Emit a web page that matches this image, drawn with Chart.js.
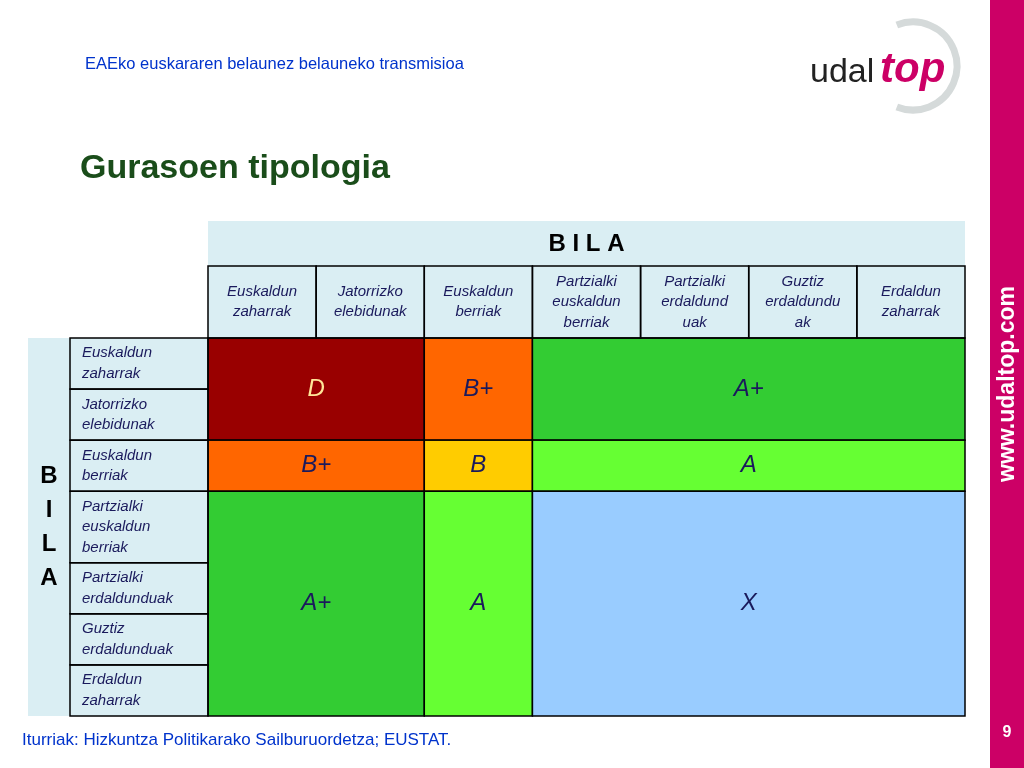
<!DOCTYPE html>
<html><head><meta charset="utf-8">
<script src="https://cdn.jsdelivr.net/npm/chart.js@4/dist/chart.umd.min.js"></script>
<style>body{margin:0;background:#fff}canvas{display:block}</style></head>
<body><canvas id="c" width="1024" height="768"></canvas>
<script>
const colLabels=[["Euskaldun","zaharrak"],["Jatorrizko","elebidunak"],["Euskaldun","berriak"],["Partzialki","euskaldun","berriak"],["Partzialki","erdaldund","uak"],["Guztiz","erdaldundu","ak"],["Erdaldun","zaharrak"]];
const rowLabels=[["Euskaldun","zaharrak"],["Jatorrizko","elebidunak"],["Euskaldun","berriak"],["Partzialki","euskaldun","berriak"],["Partzialki","erdaldunduak"],["Guztiz","erdaldunduak"],["Erdaldun","zaharrak"]];
const rowEdges=[0,1,2,3,4.4,5.4,6.4,7.4];
const blockCols=[[0,2],[2,3],[3,7],[0,2],[2,3],[3,7],[0,2],[2,3],[3,7]];
const blockRows=[[0,2],[0,2],[0,2],[2,3],[2,3],[2,3],[3,7],[3,7],[3,7]];
const blockLabels=["D","B+","A+","B+","B","A","A+","A","X"];
const blockColors=["#990000","#FF6600","#33CC33","#FF6600","#FFCC00","#66FF33","#33CC33","#66FF33","#99CCFF"];
const cyan="#DAEEF3", navy="#1A1A5C", F="'Liberation Sans', Arial, sans-serif";
const plug={id:'tbl',afterDraw(ch){
 const c=ch.ctx,X=ch.scales.x,Y=ch.scales.y;
 const px=v=>X.getPixelForValue(v), py=i=>Y.getPixelForValue(rowEdges[i]);
 c.save();
 const L=px(0),R=px(7),T=py(0),B=py(7);
 c.fillStyle=cyan;
 c.fillRect(L,221,R-L,T-221);
 c.fillRect(28,T,L-28,B-T);
 blockLabels.forEach((lab,i)=>{
  const x0=px(blockCols[i][0]),x1=px(blockCols[i][1]),y0=py(blockRows[i][0]),y1=py(blockRows[i][1]);
  c.fillStyle=blockColors[i];c.fillRect(x0,y0,x1-x0,y1-y0);
  c.strokeStyle="#000";c.lineWidth=1.5;c.strokeRect(x0,y0,x1-x0,y1-y0);
  c.fillStyle=lab==="D"?"#FFE699":navy;c.font="italic 24px "+F;
  c.textAlign="center";c.textBaseline="middle";c.fillText(lab,(x0+x1)/2,(y0+y1)/2);
 });
 c.strokeStyle="#000";c.lineWidth=1.5;
 c.font="italic 15px "+F;
 colLabels.forEach((ls,i)=>{
  const x0=px(i),x1=px(i+1);c.strokeRect(x0,266,x1-x0,T-266);
  c.fillStyle=navy;c.textAlign="center";c.textBaseline="middle";
  const mid=(266+T)/2;ls.forEach((s,k)=>c.fillText(s,(x0+x1)/2,mid+(k-(ls.length-1)/2)*20.5));
 });
 rowLabels.forEach((ls,i)=>{
  const y0=py(i),y1=py(i+1);c.strokeRect(70,y0,L-70,y1-y0);
  c.fillStyle=navy;c.textAlign="left";c.textBaseline="middle";
  const mid=(y0+y1)/2;ls.forEach((s,k)=>c.fillText(s,82,mid+(k-(ls.length-1)/2)*20.5));
 });
 c.fillStyle="#000";c.font="bold 24px "+F;c.textAlign="center";
 c.fillText("B I L A",(L+R)/2,244);
 ["B","I","L","A"].forEach((s,k)=>c.fillText(s,49,476+k*34));
 c.restore();
}};
const bg={id:'bg',beforeDraw(ch){
 const c=ch.ctx;c.save();
 c.fillStyle="#CC0066";c.fillRect(990,0,34,768);
 c.fillStyle="#fff";c.font="bold 23px "+F;c.textAlign="center";c.textBaseline="middle";
 c.save();c.translate(1008,384);c.rotate(-Math.PI/2);c.fillText("www.udaltop.com",0,0);c.restore();
 c.font="bold 16px "+F;c.fillText("9",1007,733);
 c.textAlign="left";c.textBaseline="alphabetic";
 c.fillStyle="#0033CC";c.font="16.5px "+F;c.fillText("EAEko euskararen belaunez belauneko transmisioa",85,69);
 c.font="17px "+F;c.fillText("Iturriak: Hizkuntza Politikarako Sailburuordetza; EUSTAT.",22,745);
 c.fillStyle="#1A4D1A";c.font="bold 34px "+F;c.fillText("Gurasoen tipologia",80,178);
 c.strokeStyle="#D5DADA";c.lineWidth=7;c.beginPath();c.arc(913,66,44,-Math.PI*0.62,Math.PI*0.62);c.stroke();
 c.fillStyle="#222";c.font="34px 'Liberation Sans', sans-serif";c.fillText("udal",810,82);
 c.fillStyle="#CC0066";c.font="italic bold 42px "+F;c.fillText("top",880,82);
 c.restore();
}};
new Chart(document.getElementById('c'),{type:'scatter',
 data:{datasets:[{data:blockLabels.map((l,i)=>({x:(blockCols[i][0]+blockCols[i][1])/2,y:(rowEdges[blockRows[i][0]]+rowEdges[blockRows[i][1]])/2})),pointRadius:0}]},
 options:{responsive:false,animation:false,devicePixelRatio:1,
  layout:{padding:{left:208,right:59,top:338,bottom:52}},
  plugins:{legend:{display:false},tooltip:{enabled:false}},
  scales:{x:{display:false,min:0,max:7},y:{display:false,min:0,max:7.4,reverse:true}}},
 plugins:[bg,plug]});
</script></body></html>
